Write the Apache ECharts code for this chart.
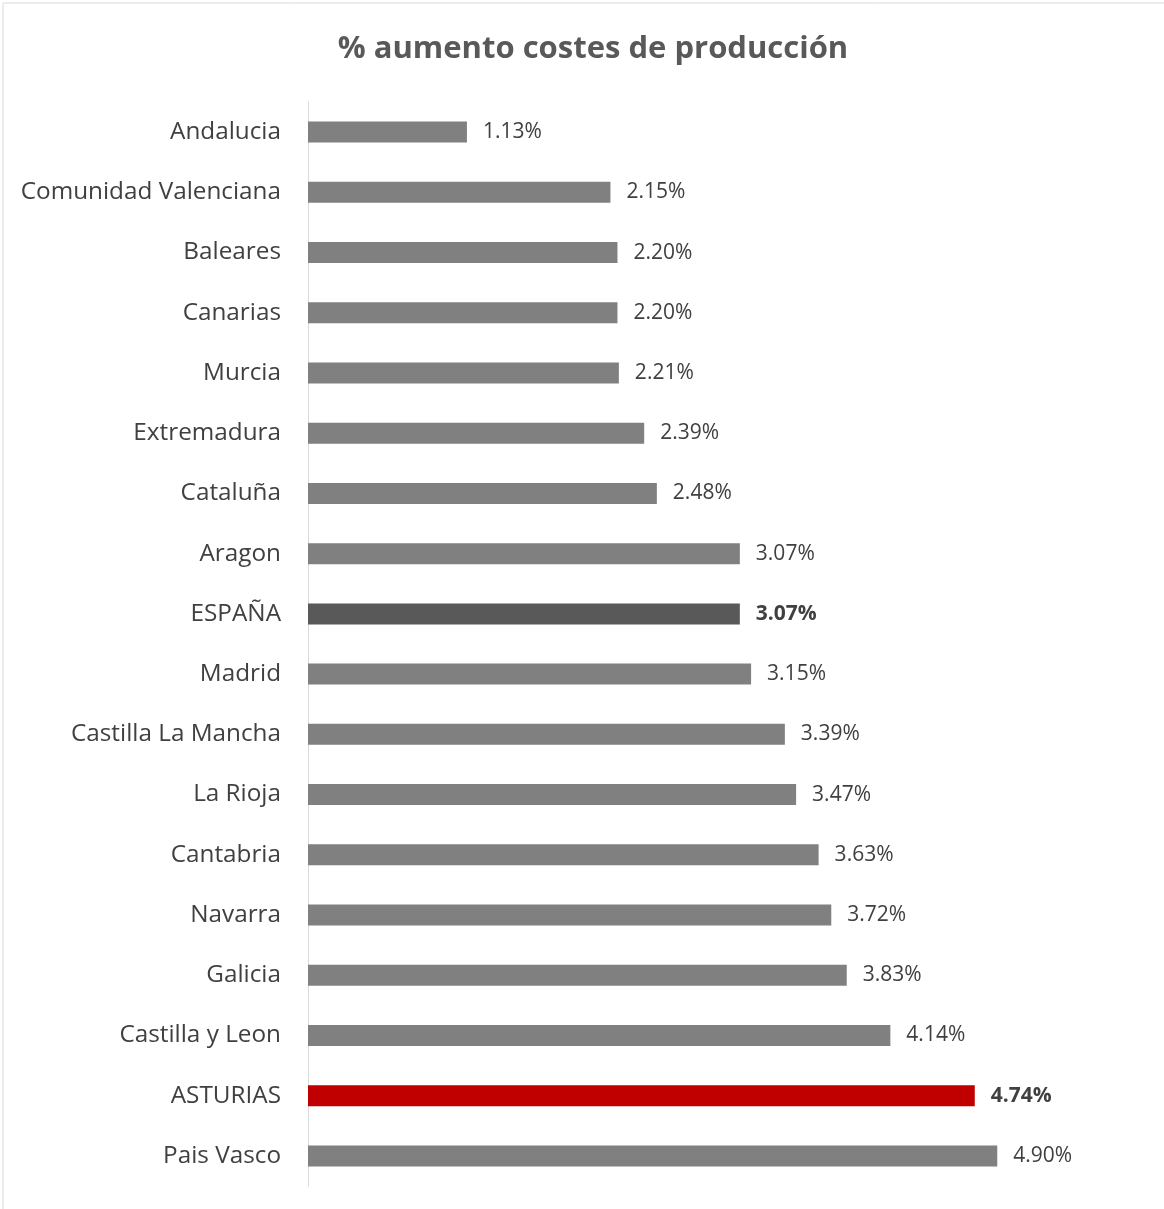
<!DOCTYPE html>
<html><head><meta charset="utf-8">
<script src="https://cdn.jsdelivr.net/npm/echarts@6/dist/echarts.min.js"></script>
<style>html,body{margin:0;padding:0;background:#fff}#c{width:1164px;height:1209px}</style>
</head><body><div id="c"></div>
<script>
const categories = ["Andalucia","Comunidad Valenciana","Baleares","Canarias","Murcia","Extremadura","Cataluña","Aragon","ESPAÑA","Madrid","Castilla La Mancha","La Rioja","Cantabria","Navarra","Galicia","Castilla y Leon","ASTURIAS","Pais Vasco"];
const values = [1.13,2.15,2.20,2.20,2.21,2.39,2.48,3.07,3.07,3.15,3.39,3.47,3.63,3.72,3.83,4.14,4.74,4.90];
const highlight = {"ESPAÑA":"#595959","ASTURIAS":"#C00000"};

const chart = echarts.init(document.getElementById('c'));
chart.setOption({
  animation:false,
  title:{text:"% aumento costes de producción",left:588,top:29,textAlign:'center',
    textStyle:{fontFamily:"Open Sans",fontSize:31,fontWeight:'bold',color:'#595959'}},
  graphic:[{type:'rect',shape:{x:3,y:3,width:1200,height:1260},style:{fill:'none',stroke:'#d9d9d9',lineWidth:1}}],
  grid:{left:308,top:102,width:844,height:1084,containLabel:false},
  xAxis:{type:'value',min:0,max:6,show:false},
  yAxis:{type:'category',inverse:true,data:categories,
    axisLine:{lineStyle:{color:'#d9d9d9'}},axisTick:{show:false},
    axisLabel:{margin:27,fontFamily:"Open Sans",fontSize:24.3,color:'#404040',padding:[6,0,0,0]}},
  series:[{type:'bar',barWidth:21,
    data:categories.map((c,i)=>({value:values[i],
      itemStyle:{color:highlight[c]||'#808080'},
      label:{fontWeight:highlight[c]?'bold':'normal'}})),
    label:{show:true,position:'right',distance:16,fontFamily:"Open Sans",fontSize:21,color:'#404040',
      padding:[6,0,0,0],formatter:p=>p.value.toFixed(2)+'%'}}]
});
</script></body></html>
